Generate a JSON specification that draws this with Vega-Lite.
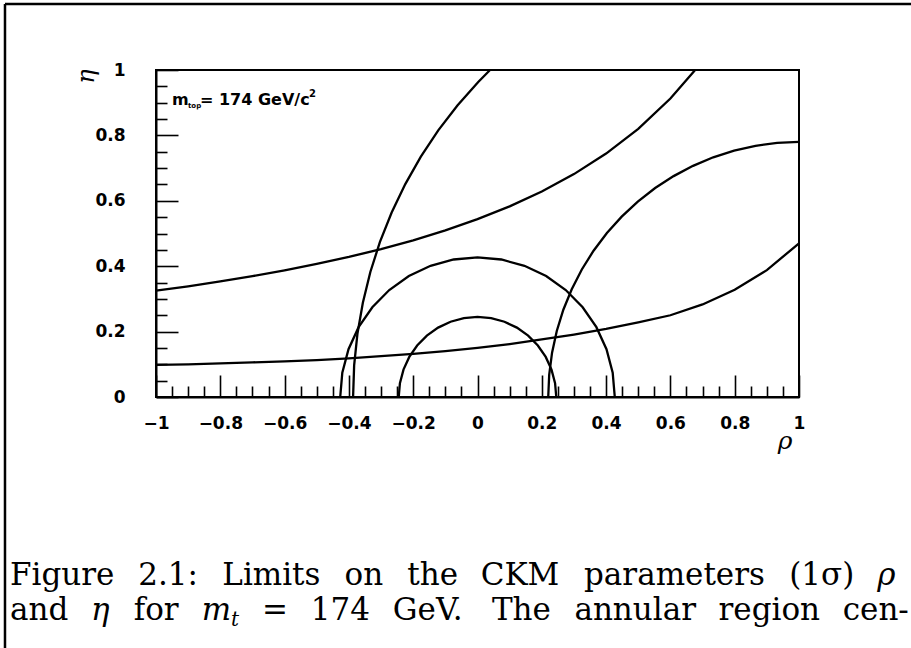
{
  "$schema": "https://vega.github.io/schema/vega-lite/v6.json",
  "width": 643,
  "height": 327,
  "autosize": {"type": "none"},
  "padding": {"left": 156, "top": 70, "right": 112, "bottom": 251},
  "background": "white",
  "config": {"view": {"stroke": "black", "strokeWidth": 2}, "axis": {"grid": false}},
  "datasets": {
    "curves": [
      {"c":"s","i":0,"rho":0.245,"eta":0},{"c":"s","i":1,"rho":0.2413,"eta":0.0425},{"c":"s","i":2,"rho":0.2302,"eta":0.0838},{"c":"s","i":3,"rho":0.2122,"eta":0.1225},{"c":"s","i":4,"rho":0.1877,"eta":0.1575},{"c":"s","i":5,"rho":0.1575,"eta":0.1877},{"c":"s","i":6,"rho":0.1225,"eta":0.2122},{"c":"s","i":7,"rho":0.0838,"eta":0.2302},{"c":"s","i":8,"rho":0.0425,"eta":0.2413},{"c":"s","i":9,"rho":0,"eta":0.245},{"c":"s","i":10,"rho":-0.0425,"eta":0.2413},{"c":"s","i":11,"rho":-0.0838,"eta":0.2302},{"c":"s","i":12,"rho":-0.1225,"eta":0.2122},{"c":"s","i":13,"rho":-0.1575,"eta":0.1877},{"c":"s","i":14,"rho":-0.1877,"eta":0.1575},{"c":"s","i":15,"rho":-0.2122,"eta":0.1225},{"c":"s","i":16,"rho":-0.2302,"eta":0.0838},{"c":"s","i":17,"rho":-0.2413,"eta":0.0425},{"c":"s","i":18,"rho":-0.245,"eta":0},
      {"c":"m","i":0,"rho":0.427,"eta":0},{"c":"m","i":1,"rho":0.4205,"eta":0.0741},{"c":"m","i":2,"rho":0.4012,"eta":0.146},{"c":"m","i":3,"rho":0.3698,"eta":0.2135},{"c":"m","i":4,"rho":0.3271,"eta":0.2745},{"c":"m","i":5,"rho":0.2745,"eta":0.3271},{"c":"m","i":6,"rho":0.2135,"eta":0.3698},{"c":"m","i":7,"rho":0.146,"eta":0.4012},{"c":"m","i":8,"rho":0.0741,"eta":0.4205},{"c":"m","i":9,"rho":0,"eta":0.427},{"c":"m","i":10,"rho":-0.0741,"eta":0.4205},{"c":"m","i":11,"rho":-0.146,"eta":0.4012},{"c":"m","i":12,"rho":-0.2135,"eta":0.3698},{"c":"m","i":13,"rho":-0.2745,"eta":0.3271},{"c":"m","i":14,"rho":-0.3271,"eta":0.2745},{"c":"m","i":15,"rho":-0.3698,"eta":0.2135},{"c":"m","i":16,"rho":-0.4012,"eta":0.146},{"c":"m","i":17,"rho":-0.4205,"eta":0.0741},{"c":"m","i":18,"rho":-0.427,"eta":0},
      {"c":"d1","i":0,"rho":1.0,"eta":0.78},{"c":"d1","i":1,"rho":0.932,"eta":0.777},{"c":"d1","i":2,"rho":0.8646,"eta":0.7681},{"c":"d1","i":3,"rho":0.7981,"eta":0.7534},{"c":"d1","i":4,"rho":0.7332,"eta":0.733},{"c":"d1","i":5,"rho":0.6704,"eta":0.7069},{"c":"d1","i":6,"rho":0.61,"eta":0.6755},{"c":"d1","i":7,"rho":0.5526,"eta":0.639},{"c":"d1","i":8,"rho":0.4986,"eta":0.5975},{"c":"d1","i":9,"rho":0.4485,"eta":0.5515},{"c":"d1","i":10,"rho":0.4025,"eta":0.5014},{"c":"d1","i":11,"rho":0.361,"eta":0.4474},{"c":"d1","i":12,"rho":0.3245,"eta":0.39},{"c":"d1","i":13,"rho":0.2931,"eta":0.3296},{"c":"d1","i":14,"rho":0.267,"eta":0.2668},{"c":"d1","i":15,"rho":0.2466,"eta":0.2019},{"c":"d1","i":16,"rho":0.2319,"eta":0.1354},{"c":"d1","i":17,"rho":0.223,"eta":0.068},{"c":"d1","i":18,"rho":0.22,"eta":0},
      {"c":"d2","i":0,"rho":0.039,"eta":1.0},{"c":"d2","i":1,"rho":0.0023,"eta":0.9635},{"c":"d2","i":2,"rho":-0.0625,"eta":0.8916},{"c":"d2","i":3,"rho":-0.1221,"eta":0.8153},{"c":"d2","i":4,"rho":-0.1762,"eta":0.735},{"c":"d2","i":5,"rho":-0.2246,"eta":0.6512},{"c":"d2","i":6,"rho":-0.267,"eta":0.5641},{"c":"d2","i":7,"rho":-0.3034,"eta":0.4744},{"c":"d2","i":8,"rho":-0.3333,"eta":0.3823},{"c":"d2","i":9,"rho":-0.3566,"eta":0.2884},{"c":"d2","i":10,"rho":-0.3735,"eta":0.1931},{"c":"d2","i":11,"rho":-0.3837,"eta":0.0968},{"c":"d2","i":12,"rho":-0.387,"eta":0},
      {"c":"e1","i":0,"rho":-1.0,"eta":0.098},{"c":"e1","i":1,"rho":-0.9,"eta":0.1},{"c":"e1","i":2,"rho":-0.8,"eta":0.103},{"c":"e1","i":3,"rho":-0.7,"eta":0.106},{"c":"e1","i":4,"rho":-0.6,"eta":0.109},{"c":"e1","i":5,"rho":-0.5,"eta":0.113},{"c":"e1","i":6,"rho":-0.4,"eta":0.118},{"c":"e1","i":7,"rho":-0.3,"eta":0.125},{"c":"e1","i":8,"rho":-0.2,"eta":0.132},{"c":"e1","i":9,"rho":-0.1,"eta":0.14},{"c":"e1","i":10,"rho":0.0,"eta":0.15},{"c":"e1","i":11,"rho":0.1,"eta":0.162},{"c":"e1","i":12,"rho":0.2,"eta":0.176},{"c":"e1","i":13,"rho":0.3,"eta":0.191},{"c":"e1","i":14,"rho":0.4,"eta":0.208},{"c":"e1","i":15,"rho":0.5,"eta":0.228},{"c":"e1","i":16,"rho":0.6,"eta":0.25},{"c":"e1","i":17,"rho":0.7,"eta":0.283},{"c":"e1","i":18,"rho":0.8,"eta":0.328},{"c":"e1","i":19,"rho":0.9,"eta":0.388},{"c":"e1","i":20,"rho":1.0,"eta":0.47},
      {"c":"e2","i":0,"rho":-1.0,"eta":0.325},{"c":"e2","i":1,"rho":-0.9,"eta":0.3385},{"c":"e2","i":2,"rho":-0.8,"eta":0.3533},{"c":"e2","i":3,"rho":-0.7,"eta":0.3695},{"c":"e2","i":4,"rho":-0.6,"eta":0.3872},{"c":"e2","i":5,"rho":-0.5,"eta":0.4068},{"c":"e2","i":6,"rho":-0.4,"eta":0.4283},{"c":"e2","i":7,"rho":-0.3,"eta":0.4523},{"c":"e2","i":8,"rho":-0.2,"eta":0.4792},{"c":"e2","i":9,"rho":-0.1,"eta":0.5095},{"c":"e2","i":10,"rho":0.0,"eta":0.5438},{"c":"e2","i":11,"rho":0.1,"eta":0.5831},{"c":"e2","i":12,"rho":0.2,"eta":0.6285},{"c":"e2","i":13,"rho":0.3,"eta":0.6816},{"c":"e2","i":14,"rho":0.4,"eta":0.7445},{"c":"e2","i":15,"rho":0.5,"eta":0.8201},{"c":"e2","i":16,"rho":0.6,"eta":0.9129},{"c":"e2","i":17,"rho":0.677,"eta":1.0}
    ],
    "frame": [
      {"x1": -1.4697, "y1": 1.2018, "x2": -1.4697, "y2": -0.8},
      {"x1": -1.4697, "y1": 1.2018, "x2": 1.45, "y2": 1.2018}
    ],
    "note": [
      {"t": "m", "x": -0.9502, "y": 0.893},
      {"t": "= 174 GeV/c", "x": -0.8631, "y": 0.893}
    ],
    "noteSub": [{"t": "top", "x": -0.9005, "y": 0.8838}],
    "noteSup": [{"t": "2", "x": -0.5241, "y": 0.9174}],
    "capRoman": [
      {"t": "Figure", "x": -1.4541, "y": -0.5749},
      {"t": "2.1:", "x": -1.0551, "y": -0.5749},
      {"t": "Limits", "x": -0.7938, "y": -0.5749},
      {"t": "on", "x": -0.4137, "y": -0.5749},
      {"t": "the", "x": -0.2184, "y": -0.5749},
      {"t": "CKM", "x": 0.01, "y": -0.5749},
      {"t": "parameters", "x": 0.3313, "y": -0.5749},
      {"t": "(1σ)", "x": 0.9695, "y": -0.5749},
      {"t": "and", "x": -1.4541, "y": -0.682},
      {"t": "for", "x": -1.0694, "y": -0.682},
      {"t": "=", "x": -0.6706, "y": -0.682},
      {"t": "174", "x": -0.5187, "y": -0.682},
      {"t": "GeV.", "x": -0.2635, "y": -0.682},
      {"t": "The", "x": 0.0449, "y": -0.682},
      {"t": "annular", "x": 0.3014, "y": -0.682},
      {"t": "region", "x": 0.7495, "y": -0.682},
      {"t": "cen-", "x": 1.1359, "y": -0.682}
    ],
    "capItalic": [
      {"t": "ρ", "x": 1.2433, "y": -0.5749},
      {"t": "η", "x": -1.202, "y": -0.682},
      {"t": "m", "x": -0.858, "y": -0.682}
    ],
    "capSub": [{"t": "t", "x": -0.7666, "y": -0.7003}]
  },
  "layer": [
    {
      "data": {"name": "curves"},
      "mark": {"type": "line", "color": "black", "strokeWidth": 2.3, "interpolate": "linear"},
      "encoding": {
        "x": {
          "field": "rho", "type": "quantitative",
          "scale": {"domain": [-1, 1], "nice": false, "zero": false},
          "axis": {
            "orient": "bottom",
            "values": [-1, -0.8, -0.6, -0.4, -0.2, 0, 0.2, 0.4, 0.6, 0.8, 1],
            "format": ".1~f",
            "tickSize": -22, "tickWidth": 1.6, "tickColor": "black",
            "domainColor": "black", "domainWidth": 2,
            "labelFont": "DejaVu Sans", "labelFontWeight": "bold", "labelFontSize": 17, "labelColor": "black",
            "labelPadding": 40, "labelFlush": false, "labelOverlap": false,
            "title": "ρ", "titleFont": "DejaVu Serif", "titleFontStyle": "italic", "titleFontWeight": "normal",
            "titleFontSize": 25, "titleColor": "black", "titleX": 636, "titleY": 51,
            "titleAlign": "right", "titleBaseline": "alphabetic", "titleAngle": 0
          }
        },
        "y": {
          "field": "eta", "type": "quantitative",
          "scale": {"domain": [0, 1], "nice": false, "zero": false},
          "axis": {
            "orient": "left",
            "values": [0, 0.2, 0.4, 0.6, 0.8, 1],
            "format": ".1~f",
            "tickSize": -22, "tickWidth": 1.6, "tickColor": "black",
            "domainColor": "black", "domainWidth": 2,
            "labelFont": "DejaVu Sans", "labelFontWeight": "bold", "labelFontSize": 17, "labelColor": "black",
            "labelPadding": 53, "labelFlush": false, "labelOverlap": false,
            "title": "η", "titleFont": "DejaVu Serif", "titleFontStyle": "italic", "titleFontWeight": "normal",
            "titleFontSize": 24, "titleColor": "black", "titleX": -70, "titleY": 6,
            "titleAlign": "center", "titleBaseline": "middle", "titleAngle": -90
          }
        },
        "detail": {"field": "c"},
        "order": {"field": "i", "type": "quantitative"}
      }
    },
    {
      "data": {"name": "frame"},
      "mark": {"type": "rule", "color": "black", "strokeWidth": 2.5},
      "encoding": {
        "x": {
          "field": "x1", "type": "quantitative",
          "scale": {"domain": [-1, 1], "nice": false, "zero": false},
          "axis": {
            "orient": "bottom",
            "values": [-0.95,-0.9,-0.85,-0.75,-0.7,-0.65,-0.55,-0.5,-0.45,-0.35,-0.3,-0.25,-0.15,-0.1,-0.05,0.05,0.1,0.15,0.25,0.3,0.35,0.45,0.5,0.55,0.65,0.7,0.75,0.85,0.9,0.95],
            "tickSize": -11, "tickWidth": 1.6, "tickColor": "black",
            "domain": false, "labels": false, "title": null
          }
        },
        "x2": {"field": "x2"},
        "y": {
          "field": "y1", "type": "quantitative",
          "scale": {"domain": [0, 1], "nice": false, "zero": false},
          "axis": {
            "orient": "left",
            "values": [0.05,0.1,0.15,0.25,0.3,0.35,0.45,0.5,0.55,0.65,0.7,0.75,0.85,0.9,0.95],
            "tickSize": -11, "tickWidth": 1.6, "tickColor": "black",
            "domain": false, "labels": false, "title": null
          }
        },
        "y2": {"field": "y2"}
      }
    },
    {
      "data": {"name": "note"},
      "mark": {"type": "text", "align": "left", "baseline": "alphabetic", "font": "DejaVu Sans", "fontWeight": "bold", "fontSize": 16, "color": "black"},
      "encoding": {
        "x": {"field": "x", "type": "quantitative", "scale": {"domain": [-1, 1], "nice": false, "zero": false}, "axis": null},
        "y": {"field": "y", "type": "quantitative", "scale": {"domain": [0, 1], "nice": false, "zero": false}, "axis": null},
        "text": {"field": "t"}
      }
    },
    {
      "data": {"name": "noteSub"},
      "mark": {"type": "text", "align": "left", "baseline": "alphabetic", "font": "DejaVu Sans", "fontWeight": "bold", "fontSize": 7, "color": "black"},
      "encoding": {
        "x": {"field": "x", "type": "quantitative", "scale": {"domain": [-1, 1], "nice": false, "zero": false}, "axis": null},
        "y": {"field": "y", "type": "quantitative", "scale": {"domain": [0, 1], "nice": false, "zero": false}, "axis": null},
        "text": {"field": "t"}
      }
    },
    {
      "data": {"name": "noteSup"},
      "mark": {"type": "text", "align": "left", "baseline": "alphabetic", "font": "DejaVu Sans", "fontWeight": "bold", "fontSize": 10, "color": "black"},
      "encoding": {
        "x": {"field": "x", "type": "quantitative", "scale": {"domain": [-1, 1], "nice": false, "zero": false}, "axis": null},
        "y": {"field": "y", "type": "quantitative", "scale": {"domain": [0, 1], "nice": false, "zero": false}, "axis": null},
        "text": {"field": "t"}
      }
    },
    {
      "data": {"name": "capRoman"},
      "mark": {"type": "text", "align": "left", "baseline": "alphabetic", "font": "DejaVu Serif", "fontSize": 31, "color": "black"},
      "encoding": {
        "x": {"field": "x", "type": "quantitative", "scale": {"domain": [-1, 1], "nice": false, "zero": false}, "axis": null},
        "y": {"field": "y", "type": "quantitative", "scale": {"domain": [0, 1], "nice": false, "zero": false}, "axis": null},
        "text": {"field": "t"}
      }
    },
    {
      "data": {"name": "capItalic"},
      "mark": {"type": "text", "align": "left", "baseline": "alphabetic", "font": "DejaVu Serif", "fontStyle": "italic", "fontSize": 31, "color": "black"},
      "encoding": {
        "x": {"field": "x", "type": "quantitative", "scale": {"domain": [-1, 1], "nice": false, "zero": false}, "axis": null},
        "y": {"field": "y", "type": "quantitative", "scale": {"domain": [0, 1], "nice": false, "zero": false}, "axis": null},
        "text": {"field": "t"}
      }
    },
    {
      "data": {"name": "capSub"},
      "mark": {"type": "text", "align": "left", "baseline": "alphabetic", "font": "DejaVu Serif", "fontStyle": "italic", "fontSize": 20, "color": "black"},
      "encoding": {
        "x": {"field": "x", "type": "quantitative", "scale": {"domain": [-1, 1], "nice": false, "zero": false}, "axis": null},
        "y": {"field": "y", "type": "quantitative", "scale": {"domain": [0, 1], "nice": false, "zero": false}, "axis": null},
        "text": {"field": "t"}
      }
    }
  ],
  "resolve": {"axis": {"x": "independent", "y": "independent"}}
}
